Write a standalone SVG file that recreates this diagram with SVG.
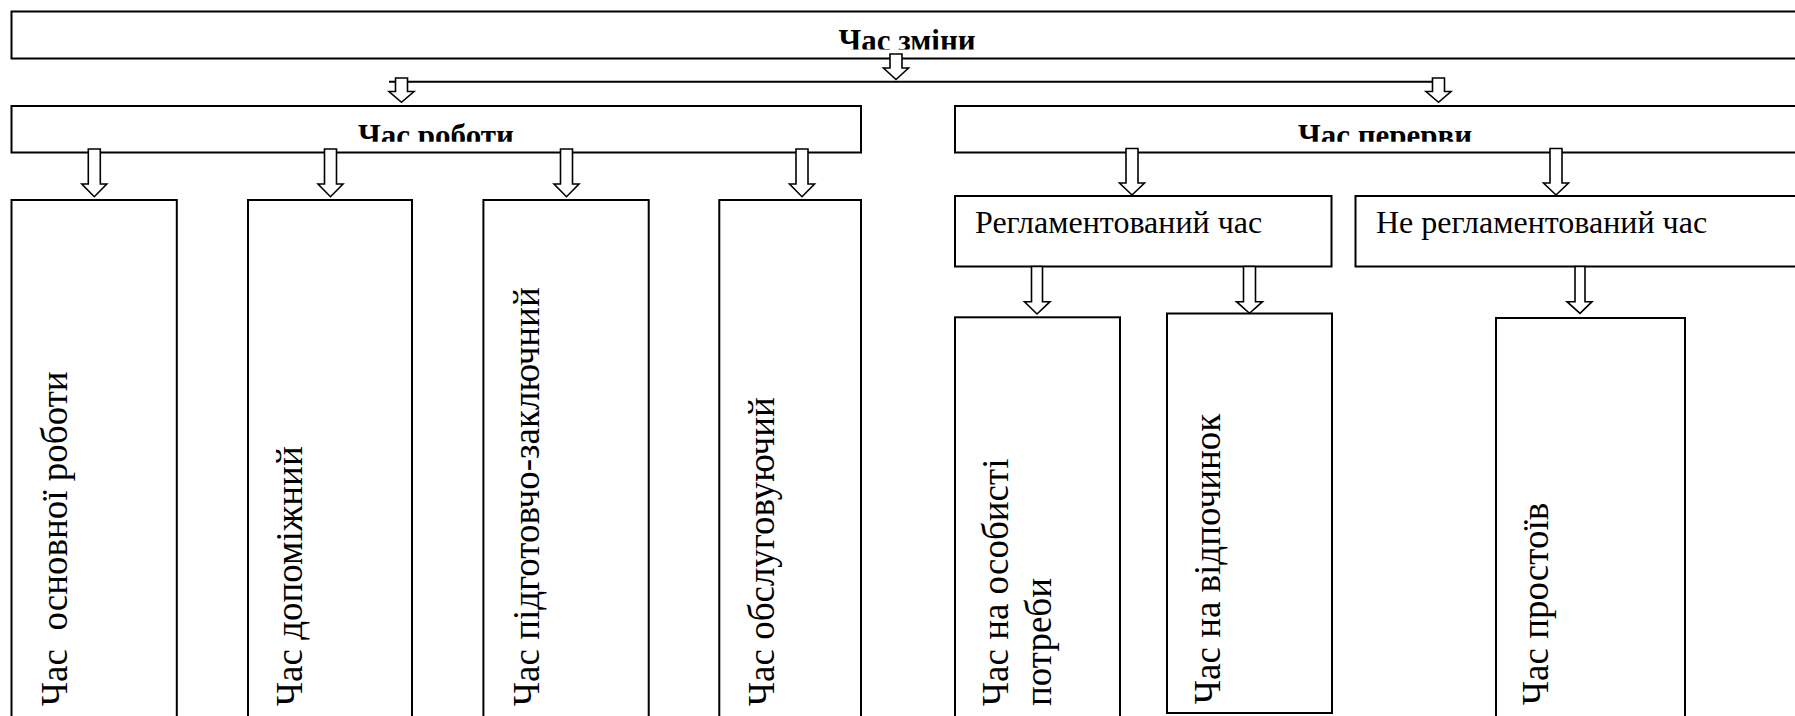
<svg xmlns="http://www.w3.org/2000/svg" width="1795" height="716" viewBox="0 0 1795 716">
<style>
.box{fill:#fff;stroke:#000;stroke-width:2}
.arr{fill:#fff;stroke:#000;stroke-width:1.6;stroke-linejoin:miter}
.ln{fill:none;stroke:#000;stroke-width:2}
.t{font-family:"Liberation Serif","Times New Roman",serif;fill:#000}
.tb{font-family:"Liberation Serif","Times New Roman",serif;font-weight:bold;font-size:31px;fill:#000;text-anchor:middle}
.th{font-size:32px}
.tv{font-size:37px}
</style>
<defs>
<clipPath id="c0"><rect x="12" y="12" width="1790" height="37.5"/></clipPath>
<clipPath id="c1"><rect x="12" y="107" width="848" height="34.7"/></clipPath>
<clipPath id="c2"><rect x="956" y="107" width="850" height="34.7"/></clipPath>
</defs>
<rect width="1795" height="716" fill="#fff"/>

<g id="n-shift">
<rect class="box" x="11.5" y="11.5" width="1800" height="47"/>
<text class="tb" x="907" y="50.5" clip-path="url(#c0)">Час зміни</text>
</g>

<g id="n-work">
<rect class="box" x="11.5" y="106" width="849.5" height="46.5"/>
<text class="tb" x="436" y="145.5" clip-path="url(#c1)">Час роботи</text>
</g>

<g id="n-break">
<rect class="box" x="955" y="106" width="860" height="46.5"/>
<text class="tb" x="1385" y="145.5" clip-path="url(#c2)">Час перерви</text>
</g>

<g id="n-main">
<rect class="box" x="11.5" y="200" width="165.3" height="530"/>
<text class="t tv" transform="translate(67,706) rotate(-90)" xml:space="preserve">Час  основної роботи</text>
</g>

<g id="n-aux">
<rect class="box" x="248" y="200" width="164" height="530"/>
<text class="t tv" transform="translate(302,706) rotate(-90)">Час допоміжний</text>
</g>

<g id="n-prep">
<rect class="box" x="483.4" y="200" width="165.3" height="530"/>
<text class="t tv" transform="translate(538.5,706) rotate(-90)">Час підготовчо-заключний</text>
</g>

<g id="n-serv">
<rect class="box" x="719.3" y="200" width="141.7" height="530"/>
<text class="t tv" transform="translate(773.5,706) rotate(-90)">Час обслуговуючий</text>
</g>

<g id="n-regl">
<rect class="box" x="955" y="196" width="376.5" height="70.5"/>
<text class="t th" x="975" y="233.3">Регламентований час</text>
</g>

<g id="n-noregl">
<rect class="box" x="1355.5" y="196" width="460" height="70.5"/>
<text class="t th" x="1376" y="233.3">Не регламентований час</text>
</g>

<g id="n-personal">
<rect class="box" x="955" y="317.3" width="165" height="420"/>
<text class="t tv" transform="translate(1008.3,706) rotate(-90)">Час на особисті</text>
<text class="t tv" transform="translate(1051,706) rotate(-90)">потреби</text>
</g>

<g id="n-rest">
<rect class="box" x="1167" y="313.5" width="165" height="399.5"/>
<text class="t tv" transform="translate(1220,704) rotate(-90)">Час на відпочинок</text>
</g>

<g id="n-idle">
<rect class="box" x="1496" y="318" width="189" height="420"/>
<text class="t tv" transform="translate(1548,705) rotate(-90)">Час простоїв</text>
</g>

<g id="connectors">
<line class="ln" x1="389" y1="81.7" x2="1432" y2="81.7"/>
<polygon class="arr" points="890,54 902,54 902,68 908.5,68 896,79.5 883.5,68 890,68"/>
<polygon class="arr" points="395.5,78 407.5,78 407.5,91.5 414,91.5 401.5,102.3 389,91.5 395.5,91.5"/>
<polygon class="arr" points="1432.5,78 1444.5,78 1444.5,91.5 1451,91.5 1438.5,102.3 1426,91.5 1432.5,91.5"/>
<polygon class="arr" points="88.3,149 100.3,149 100.3,184 106.8,184 94.3,196.7 81.8,184 88.3,184"/>
<polygon class="arr" points="324.5,149 336.5,149 336.5,184 343,184 330.5,196.7 318,184 324.5,184"/>
<polygon class="arr" points="560.5,149 572.5,149 572.5,184 579,184 566.5,196.7 554,184 560.5,184"/>
<polygon class="arr" points="796,149 808,149 808,184 814.5,184 802,196.7 789.5,184 796,184"/>
<polygon class="arr" points="1126,148.5 1138,148.5 1138,183 1144.5,183 1132,195 1119.5,183 1126,183"/>
<polygon class="arr" points="1550,148.5 1562,148.5 1562,183 1568.5,183 1556,195 1543.5,183 1550,183"/>
<polygon class="arr" points="1031.5,266.5 1042.5,266.5 1042.5,301.7 1050,301.7 1037,314 1024.5,301.7 1031.5,301.7"/>
<polygon class="arr" points="1243.5,266.5 1255.5,266.5 1255.5,301.7 1262.5,301.7 1249.5,313.3 1236.5,301.7 1243.5,301.7"/>
<polygon class="arr" points="1575,266.5 1585,266.5 1585,301.7 1592,301.7 1580,313.3 1567,301.7 1575,301.7"/>
</g>
</svg>
